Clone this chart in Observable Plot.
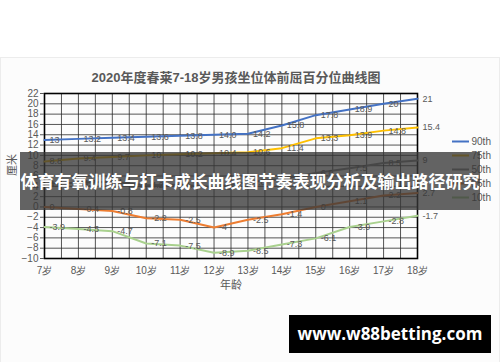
<!DOCTYPE html>
<html><head><meta charset="utf-8">
<script src="https://cdn.jsdelivr.net/npm/d3@7"></script>
<script src="https://cdn.jsdelivr.net/npm/@observablehq/plot@0.6"></script>
<style>
body{margin:0;background:#fff;}
#wrap{position:relative;width:500px;height:362px;overflow:hidden;background:#fff;font-family:"Liberation Sans",Arial,sans-serif;}
#frame{position:absolute;left:0;top:57px;width:498px;height:310px;border:1px solid #ececec;background:#fcfcfc;}
#chart{position:absolute;left:0;top:0;}
#legend{position:absolute;left:450px;top:134px;}
#title{position:absolute;left:0;width:472px;top:67px;text-align:center;font-size:13px;font-weight:bold;color:#595959;font-family:"Liberation Sans","Noto Sans CJK SC",sans-serif;}
#banner{position:absolute;left:20px;top:152px;width:460px;height:58px;background:rgba(55,55,55,0.78);color:#fff;font-family:"Noto Sans CJK SC",sans-serif;font-weight:bold;font-size:17px;line-height:58px;text-align:center;white-space:nowrap;}
#wm{position:absolute;left:289px;top:315px;width:202px;height:38px;background:#000;color:#fff;font-family:"Open Sans",sans-serif;font-weight:bold;font-size:17px;line-height:38px;text-align:center;}
</style></head>
<body><div id="wrap"><div id="frame"></div><div id="chart"></div><div id="legend"></div>
<div id="title">2020年度春莱7-18岁男孩坐位体前屈百分位曲线图</div>
<div id="banner">体育有氧训练与打卡成长曲线图节奏表现分析及输出路径研究</div>
<div id="wm">www.w88betting.com</div></div>
<script>
const ages = [7, 8, 9, 10, 11, 12, 13, 14, 15, 16, 17, 18];
const p90 = [13, 13.2, 13.4, 13.6, 13.8, 14.0, 14.2, 15.8, 17.8, 18.9, 20, 21];
const p75 = [8.8, 9.4, 9.7, 10, 10.2, 10.4, 10.6, 11.4, 13.3, 13.9, 14.8, 15.4];
const p50 = [4.5, 4.7, 4.9, 4.2, 4.3, 3.8, 4.8, 5.4, 6.6, 7.5, 8.5, 9];
const p25 = [0, -0.4, -0.8, -2.2, -2.5, -4, -2.5, -1.4, 0, 1.1, 2.2, 2.7];
const p10 = [-3.9, -4.3, -4.7, -7.1, -7.5, -8.9, -8.5, -7.3, -6.1, -3.9, -2.8, -1.7];
const seriesNames = ["90th", "75th", "50th", "25th", "10th"];
const seriesColors = ["#4472C4", "#FFC000", "#7F7F7F", "#ED7D31", "#A9D18E"];
const yTicks = d3.range(-10, 23, 2);
const xAxisTitle = "年龄";
const yAxisTitle = "厘米";

const allSeries = [p90, p75, p50, p25, p10];
const rows = [];
allSeries.forEach((vals, i) => vals.forEach((v, j) => rows.push({series: seriesNames[i], age: ages[j], value: v})));
const halfGrid = d3.range(ages[0], ages[ages.length - 1] + 0.01, 0.5);
const legendRows = seriesNames.map((s, i) => ({series: s, i}));
const labelText = d => (d.series === "90th" && d.age === 12) ? d.value.toFixed(1) : String(d.value);

const chart = Plot.plot({
  width: 500, height: 362,
  marginLeft: 44, marginRight: 83, marginTop: 93, marginBottom: 104,
  style: {fontFamily: "Liberation Sans, Arial, sans-serif", color: "#595959", background: "transparent"},
  x: {domain: [7, 18]},
  y: {domain: [-10, 22]},
  color: {domain: seriesNames, range: seriesColors},
  marks: [
    Plot.ruleX(halfGrid, {x: d => d, stroke: "#2a2a2a", strokeOpacity: 0.8, strokeWidth: 1}),
    Plot.ruleY(yTicks, {y: d => d, stroke: "#2a2a2a", strokeOpacity: 0.8, strokeWidth: 1}),
    Plot.frame({stroke: "#000", strokeWidth: 1.6}),
    Plot.line(rows, {x: "age", y: "value", z: "series", stroke: "series", strokeWidth: 2, curve: "linear"}),
    Plot.text(rows, {x: "age", y: "value", text: labelText, dx: 5, textAnchor: "start", fontSize: 9, fill: "#595959"}),
    Plot.axisX({ticks: ages, tickFormat: d => d + "岁", tickSize: 0, tickPadding: 8, fontSize: 10, fill: "#595959", label: null}),
    Plot.axisY({ticks: yTicks, tickSize: 4, tickPadding: 2, fontSize: 10, fill: "#595959", stroke: "#595959", label: null}),
    Plot.text([xAxisTitle], {frameAnchor: "bottom", dy: 30, dx: 0, text: d => d, fontSize: 11, fill: "#595959", fontFamily: "Noto Sans CJK SC"}),
    Plot.text([yAxisTitle], {frameAnchor: "left", dx: -32, dy: 0, rotate: -90, text: d => d, fontSize: 11, fill: "#595959", fontFamily: "Noto Sans CJK SC"})
  ]
});
const legend = Plot.plot({
  width: 50, height: 70, margin: 0,
  x: {domain: [0, 1], axis: null}, y: {domain: [4.5, -0.5], axis: null},
  color: {domain: seriesNames, range: seriesColors},
  style: {background: "transparent", fontFamily: "Liberation Sans, Arial, sans-serif", overflow: "visible"},
  marks: [
    Plot.ruleY(legendRows, {y: "i", x1: 0.04, x2: 0.38, stroke: "series", strokeWidth: 2}),
    Plot.text(legendRows, {y: "i", x: 0.42, text: "series", textAnchor: "start", fontSize: 10, fill: "#595959"})
  ]
});
document.getElementById("chart").appendChild(chart);
document.getElementById("legend").appendChild(legend);
</script>
</body></html>
